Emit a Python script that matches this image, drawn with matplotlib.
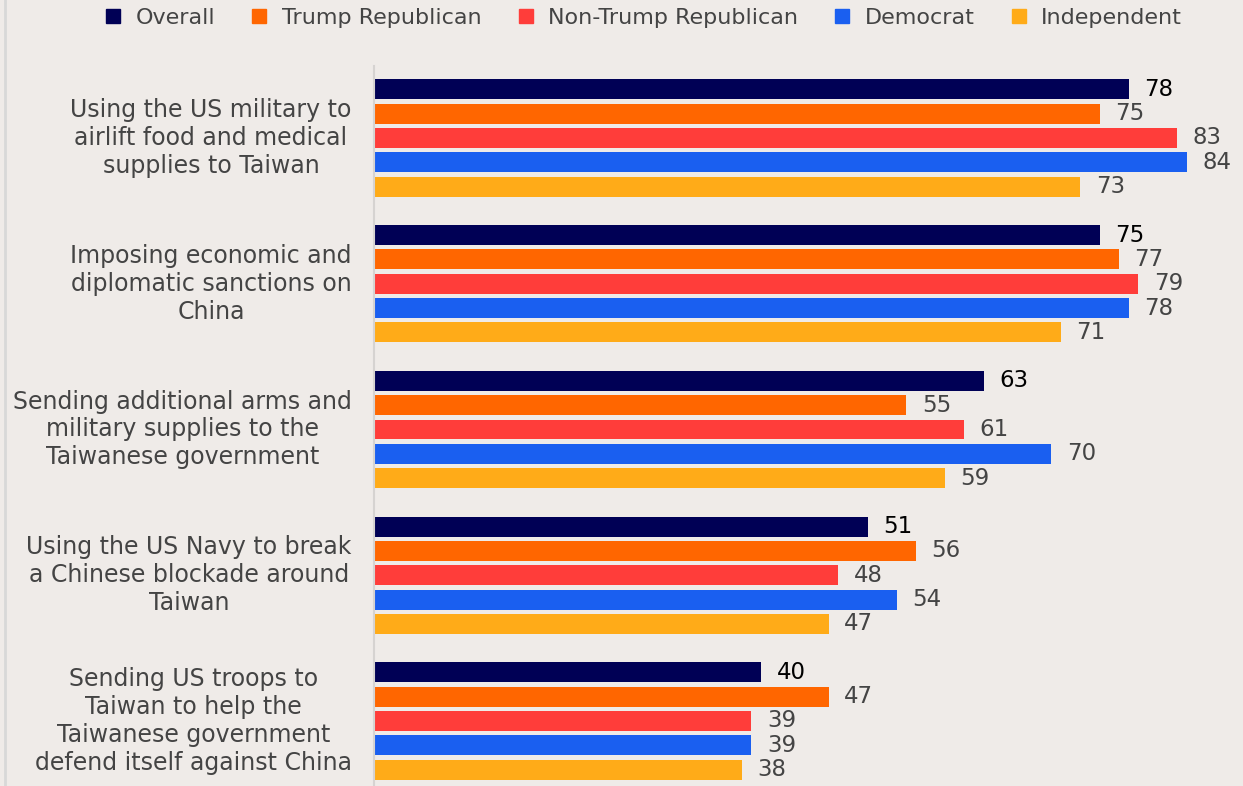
import numpy as np
import matplotlib.pyplot as plt
from matplotlib.lines import Line2D

plt.rcParams['font.family'] = ['DejaVu Sans']

categories = [
    "Using the US military to\nairlift food and medical\nsupplies to Taiwan",
    "Imposing economic and\ndiplomatic sanctions on\nChina",
    "Sending additional arms and\nmilitary supplies to the\nTaiwanese government",
    "Using the US Navy to break\na Chinese blockade around\nTaiwan",
    "Sending US troops to\nTaiwan to help the\nTaiwanese government\ndefend itself against China",
]
series = ["Overall", "Trump Republican", "Non-Trump Republican", "Democrat", "Independent"]
overall = [78, 75, 63, 51, 40]
trump_rep = [75, 77, 55, 56, 47]
non_trump_rep = [83, 79, 61, 48, 39]
democrat = [84, 78, 70, 54, 39]
independent = [73, 71, 59, 47, 38]

colors = ["#000055", "#ff6600", "#ff3d3a", "#1a5ff0", "#ffab18"]
values = [overall, trump_rep, non_trump_rep, democrat, independent]

bg = "#efebe8"
fig = plt.figure(figsize=(12.43, 7.86), dpi=100, facecolor=bg)
ax = fig.add_axes([374 / 1243, 0, 1 - 374 / 1243, 1 - 66 / 786])
ax.set_facecolor(bg)

y = np.arange(len(categories))
step = 0.1669
height = 0.137
for j, (name, vals, c) in enumerate(zip(series, values, colors)):
    pos = y + (j - 2) * step
    ax.barh(pos, vals, height=height, color=c, label=name)
    tc = "black" if j == 0 else "#444444"
    for p, v in zip(pos, vals):
        ax.text(v + 1.6, p, str(v), va="center", ha="left", fontsize=16.5, color=tc)

ax.set_xlim(0, 89.8)
ax.set_ylim(4.446, -0.494)
ax.set_xticks([])
ax.set_yticks([])
for s in ["top", "right", "bottom"]:
    ax.spines[s].set_visible(False)
ax.spines["left"].set_color("#d6d3d1")
ax.spines["left"].set_linewidth(1.5)

for yi, lab in zip(y, categories):
    ax.text(-2.3, yi, lab, ha="right", va="center", multialignment="center",
            fontsize=17, color="#444444", linespacing=1.2)

handles = [Line2D([], [], marker="s", linestyle="none", markersize=10,
                  markerfacecolor=c, markeredgecolor=c) for c in colors]
fig.legend(handles, series, loc="center", bbox_to_anchor=(0.512, 1 - 18 / 786),
           ncol=5, frameon=False, fontsize=16, handletextpad=0.0,
           columnspacing=1.0, labelcolor="#444444")

fig.add_artist(Line2D([5 / 1243, 5 / 1243], [0, 1], color="#d8d8d8", linewidth=2))

fig.savefig("out.png", dpi=100, facecolor=bg)
